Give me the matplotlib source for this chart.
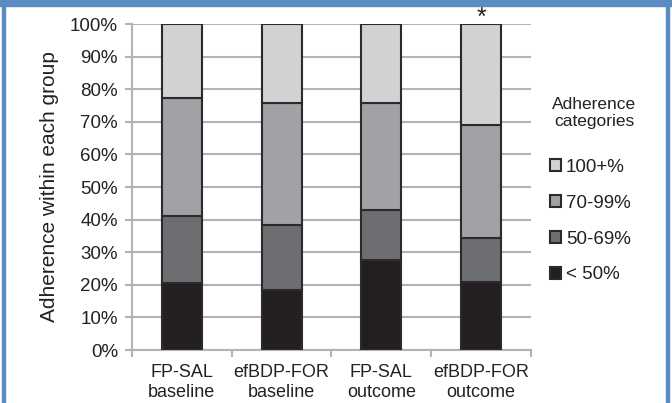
import matplotlib
matplotlib.use("Agg")
import matplotlib.pyplot as plt
from matplotlib.patches import Rectangle
import numpy as np

plt.rcParams['font.family'] = ['Liberation Sans', 'DejaVu Sans']

groups = ["FP-SAL\nbaseline", "efBDP-FOR\nbaseline", "FP-SAL\noutcome", "efBDP-FOR\noutcome"]
lt50 = [20.5, 18.3, 27.5, 21.0]
p50_69 = [20.5, 20.1, 15.4, 13.5]
p70_99 = [36.3, 37.3, 32.8, 34.5]
p100 = [22.7, 24.3, 24.3, 31.0]
series_names = ["< 50%", "50-69%", "70-99%", "100+%"]
colors = ["#231f20", "#6d6e71", "#a1a2a5", "#d1d2d4"]
yticks = [0, 10, 20, 30, 40, 50, 60, 70, 80, 90, 100]

fig = plt.figure(figsize=(6.72, 4.03), dpi=100)
ax = fig.add_axes([0.1964, 0.1315, 0.5937, 0.8089])

x = np.arange(len(groups))
bottom = np.zeros(len(groups))
handles = []
for vals, name, c in zip([lt50, p50_69, p70_99, p100], series_names, colors):
    h = ax.bar(x, vals, width=0.4, bottom=bottom, color=c, edgecolor="#2b2b2b",
               linewidth=1.5, label=name, zorder=3)
    handles.append(h)
    bottom += np.array(vals)

ax.text(3, 102.0, "*", ha="center", va="center", fontsize=18, color="#222222",
        clip_on=False)

ax.set_xlim(-0.5, 3.5)
ax.set_ylim(0, 100)
ax.set_yticks(yticks)
ax.set_yticklabels([f"{v}%" for v in yticks], fontsize=13.5, color="#222222")
ax.yaxis.grid(True, color="#b3b3b3", linewidth=1.5, zorder=0)
ax.set_axisbelow(True)
ax.set_xticks(x)
ax.set_xticklabels(groups, fontsize=13, color="#222222", linespacing=1.25)
ax.set_xticks(np.arange(-0.5, 4.0, 1.0), minor=True)
ax.tick_params(axis="x", which="major", length=0, pad=10)
ax.tick_params(axis="x", which="minor", length=5, width=1.5, color="#b3b3b3")
ax.tick_params(axis="y", length=5, width=1.5, color="#b3b3b3", pad=5)
for s in ["top", "right"]:
    ax.spines[s].set_visible(False)
for s in ["left", "bottom"]:
    ax.spines[s].set_color("#b3b3b3")
    ax.spines[s].set_linewidth(1.5)
ax.set_ylabel("Adherence within each group", fontsize=15, color="#222222", labelpad=8)

fig.text(594 / 672, 1 - 113 / 403, "Adherence\ncategories", ha="center", va="center",
         fontsize=12.5, color="#222222", linespacing=1.2)

leg = fig.legend(handles[::-1], series_names[::-1],
                 loc="upper left", bbox_to_anchor=(550 / 672, 1 - 159 / 403),
                 bbox_transform=fig.transFigure, frameon=False, borderpad=0,
                 borderaxespad=0, fontsize=13.5, handlelength=0.6, handleheight=0.6,
                 handletextpad=0.25, labelspacing=1.0)
for t in leg.get_texts():
    t.set_color("#222222")

# blue frame
blue = "#5a8bc1"
fig.patches.append(Rectangle((0, 1 - 6 / 403), 1, 6 / 403, transform=fig.transFigure,
                             color=blue, zorder=10))
fig.patches.append(Rectangle((2 / 672, 0), 3 / 672, 1, transform=fig.transFigure,
                             color=blue, zorder=10))
fig.patches.append(Rectangle((666 / 672, 0), 3 / 672, 1, transform=fig.transFigure,
                             color=blue, zorder=10))

fig.savefig("out.png", dpi=100)
